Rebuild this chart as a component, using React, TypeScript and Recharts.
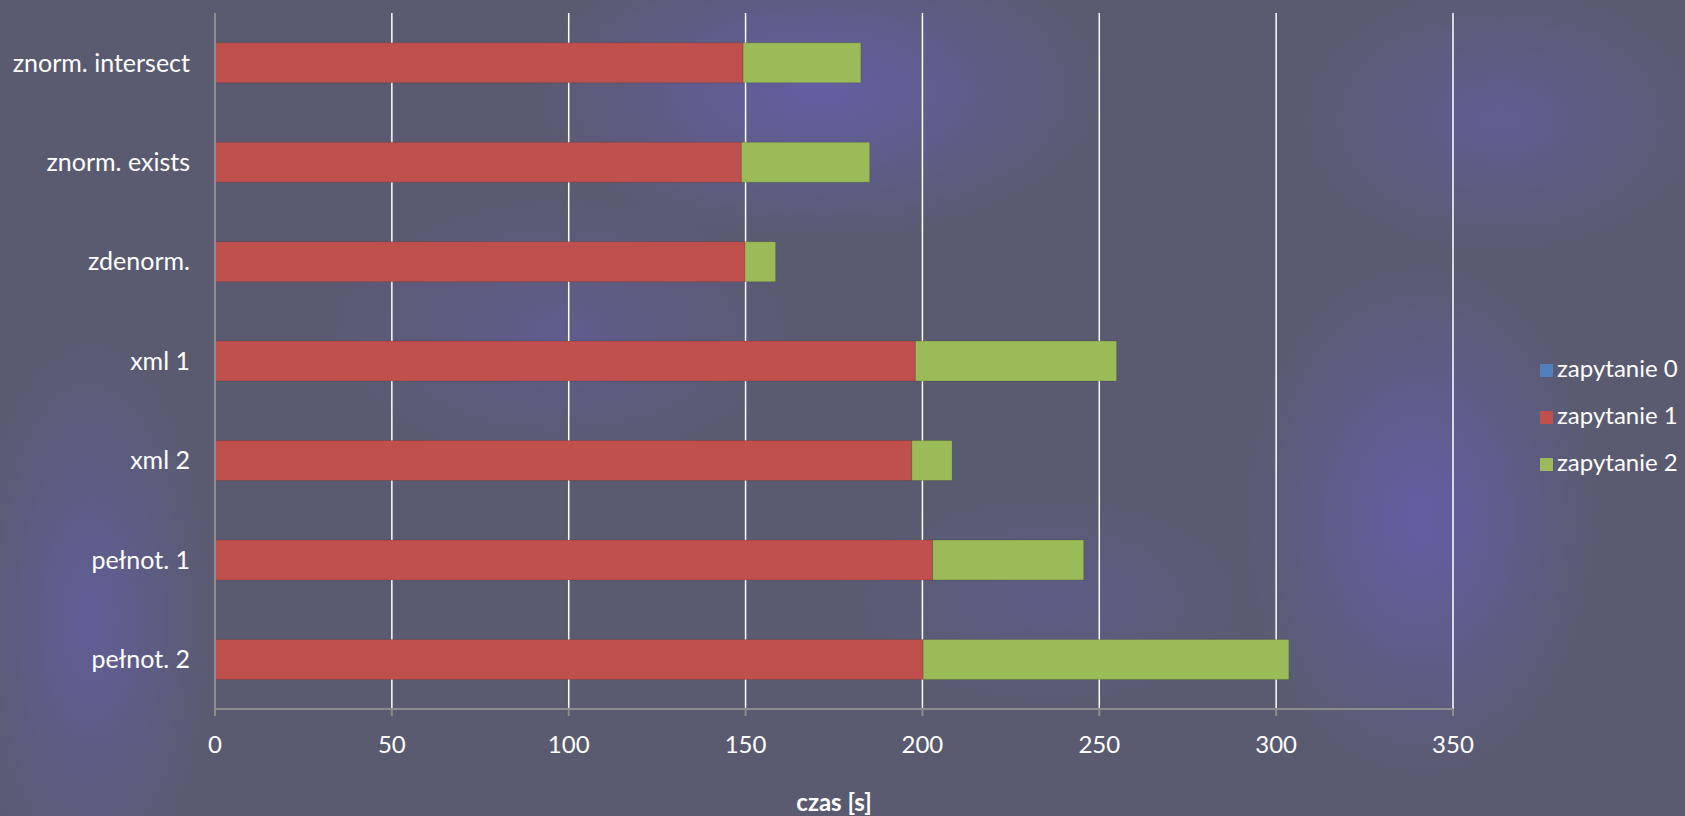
import { Bar, BarChart, CartesianGrid, Legend, XAxis, YAxis } from 'recharts'

const categories = ['znorm. intersect', 'znorm. exists', 'zdenorm.', 'xml 1', 'xml 2', 'pełnot. 1', 'pełnot. 2']
const query0 = [0, 0, 0, 0, 0, 0, 0]
const query1 = [149.3, 148.8, 149.9, 198.0, 197.0, 202.9, 200.2]
const query2 = [33.3, 36.3, 8.6, 56.9, 11.4, 42.7, 103.4]
const xTicks = [0, 50, 100, 150, 200, 250, 300, 350]
const bandTicks = [0, 1, 2, 3, 4, 5, 6, 7]

const data = categories.map((name, i) => ({
  name,
  q0: query0[i],
  q1: query1[i],
  q2: query2[i],
}))

const FONT = 'Lato, "Open Sans", sans-serif'
const AXIS_GRAY = '#8c8c8c'

// soft purple swirls over a slate base, roughly like the slide background
const background = [
  'radial-gradient(ellipse 420px 220px at 820px 90px, rgba(110,98,225,0.45), transparent 70%)',
  'radial-gradient(ellipse 260px 380px at 1420px 520px, rgba(110,98,225,0.45), transparent 70%)',
  'radial-gradient(ellipse 300px 200px at 1500px 120px, rgba(110,98,225,0.30), transparent 70%)',
  'radial-gradient(ellipse 180px 420px at 90px 620px, rgba(110,98,225,0.35), transparent 70%)',
  'radial-gradient(ellipse 350px 200px at 560px 330px, rgba(110,98,225,0.25), transparent 70%)',
  'radial-gradient(ellipse 300px 160px at 1050px 600px, rgba(110,98,225,0.20), transparent 70%)',
  '#5a5b70',
].join(', ')

export default function App() {
  return (
    <div style={{ position: 'fixed', left: 0, top: 0, width: 1685, height: 816, background, fontFamily: FONT }}>
      <BarChart
        width={1685}
        height={816}
        data={data}
        layout="vertical"
        margin={{ top: 13, right: 232, bottom: 0, left: 0 }}
        barCategoryGap="30%"
      >
        <CartesianGrid horizontal={false} stroke="#ffffff" strokeWidth={1.5} />
        <XAxis
          type="number"
          domain={[0, 350]}
          ticks={xTicks}
          height={107}
          stroke={AXIS_GRAY}
          strokeWidth={2}
          tickSize={7}
          tickMargin={20}
          tick={{ fill: '#ffffff', fontSize: 24, fontFamily: FONT }}
          label={{
            value: 'czas [s]',
            position: 'insideBottom',
            offset: 5,
            fill: '#ffffff',
            fontSize: 24,
            fontWeight: 700,
            fontFamily: FONT,
          }}
        />
        <YAxis
          type="category"
          dataKey="name"
          width={215}
          stroke={AXIS_GRAY}
          strokeWidth={2}
          tickLine={false}
          tickSize={0}
          tickMargin={25}
          interval={0}
          tick={{ fill: '#ffffff', fontSize: 25, fontFamily: FONT }}
        />
        {/* boundary ticks between categories */}
        <YAxis
          yAxisId="bands"
          type="number"
          domain={[0, 7]}
          ticks={bandTicks}
          mirror
          axisLine={false}
          tick={false}
          tickSize={-8}
          stroke={AXIS_GRAY}
          strokeWidth={2}
          width={0}
        />
        <Legend
          layout="vertical"
          align="center"
          verticalAlign="middle"
          iconType="square"
          iconSize={13}
          wrapperStyle={{ left: 1540, top: 344, width: 150, lineHeight: '47px', fontSize: 24, fontFamily: FONT }}
          formatter={(value) => <span style={{ color: '#ffffff' }}>{value}</span>}
        />
        <Bar dataKey="q0" name="zapytanie 0" stackId="a" fill="#4f81bd" isAnimationActive={false} />
        <Bar dataKey="q1" name="zapytanie 1" stackId="a" fill="#c0504d" stroke="rgba(0,0,0,0.12)" isAnimationActive={false} />
        <Bar dataKey="q2" name="zapytanie 2" stackId="a" fill="#9bbb59" stroke="rgba(0,0,0,0.15)" isAnimationActive={false} />
      </BarChart>
    </div>
  )
}
